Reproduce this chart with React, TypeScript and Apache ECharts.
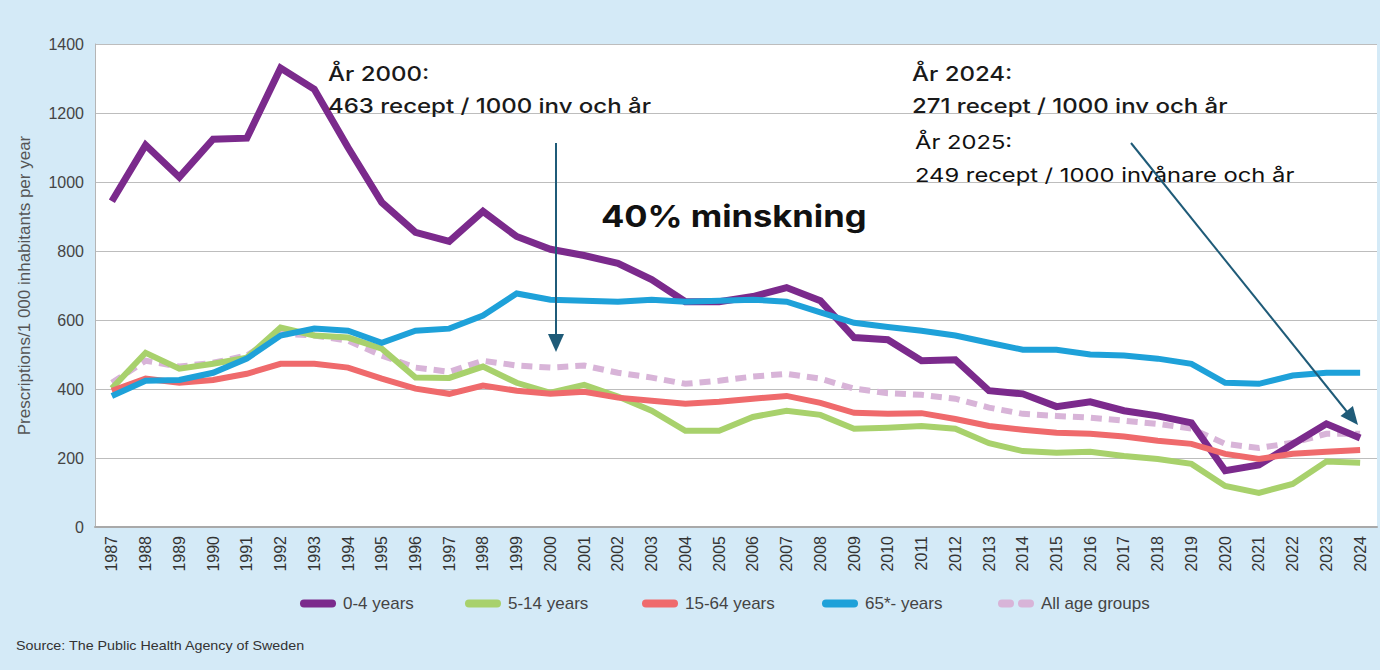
import React, { useEffect, useRef } from "react";
import * as echarts from "echarts";

const years = [
  "1987","1988","1989","1990","1991","1992","1993","1994","1995","1996",
  "1997","1998","1999","2000","2001","2002","2003","2004","2005","2006",
  "2007","2008","2009","2010","2011","2012","2013","2014","2015","2016",
  "2017","2018","2019","2020","2021","2022","2023","2024",
];

const age0to4 = [
  944, 1107, 1014, 1124, 1127, 1330, 1269, 1100, 941, 854,
  828, 915, 842, 805, 787, 764, 717, 653, 653, 668,
  694, 656, 549, 543, 482, 485, 395, 386, 349, 363,
  337, 322, 302, 163, 180, 240, 299, 258,
];

const age5to14 = [
  402, 505, 459, 473, 491, 578, 555, 549, 517, 433,
  432, 465, 418, 389, 412, 378, 337, 279, 279, 319,
  337, 325, 285, 288, 293, 285, 243, 220, 215, 218,
  206, 197, 183, 119, 99, 125, 190, 186,
];

const age15to64 = [
  395, 430, 418, 426, 444, 473, 473, 462, 430, 401,
  386, 410, 395, 386, 392, 375, 366, 357, 363, 372,
  380, 360, 331, 328, 330, 313, 293, 282, 273, 270,
  262, 250, 241, 212, 197, 212, 218, 223,
];

const age65plus = [
  380, 424, 426, 447, 488, 555, 575, 569, 534, 569,
  575, 613, 677, 659, 656, 653, 659, 653, 656, 659,
  653, 622, 592, 580, 569, 555, 534, 514, 514, 500,
  497, 488, 473, 418, 415, 439, 447, 447,
];

const allAges = [
  418, 482, 465, 476, 497, 560, 555, 540, 497, 462,
  450, 482, 468, 462, 468, 447, 433, 415, 424, 436,
  444, 430, 401, 388, 383, 372, 346, 328, 322, 317,
  308, 299, 285, 241, 229, 244, 270, 270,
];

const yTicks = { min: 0, max: 1400, interval: 200 };

const seriesNames = ["0-4 years", "5-14 years", "15-64 years", "65*- years", "All age groups"];
const seriesColors = ["#7b2a8c", "#a8d16c", "#ef6a6c", "#1ea1d9", "#d8b4d8"];

const FONT = "'Liberation Sans', Arial, sans-serif";
const ANN_FONT = "Inter, 'Noto Sans', sans-serif";
const ARROW = "#1f5b78";

const annText = (text: string, x: number, y: number, fontSize: number, weight: any, sx: number, fill = "#1a1a1a") => ({
  type: "text",
  x,
  y,
  scaleX: sx,
  z: 10,
  style: { text, fontSize, fontFamily: ANN_FONT, fontWeight: weight, fill, align: "left", verticalAlign: "middle" },
});

export default function App() {
  const ref = useRef<HTMLDivElement>(null);

  useEffect(() => {
    document.body.style.margin = "0";
    if (!ref.current) return;
    const chart = echarts.init(ref.current, null, { renderer: "svg" });

    const capsule = "path://M4,0 h28 a4,4 0 0 1 0,8 h-28 a4,4 0 0 1 0,-8 z";
    const dashes = "path://M4,0 h8 a4,4 0 0 1 0,8 h-8 a4,4 0 0 1 0,-8 z M24,0 h8 a4,4 0 0 1 0,8 h-8 a4,4 0 0 1 0,-8 z";
    const legendLefts = [300, 465, 642, 822, 998];
    const legends = seriesNames.map((name, i) => ({
      data: [name],
      left: legendLefts[i],
      top: 595,
      padding: 0,
      itemWidth: 36,
      itemHeight: 8,
      symbolKeepAspect: false,
      icon: i === 4 ? dashes : capsule,
      textStyle: { fontSize: 17, color: "#444", fontFamily: FONT, padding: [0, 0, 0, 2] },
      selectedMode: false,
    }));

    const lineSeries = (name: string, data: number[], color: string, width: number, z: number, dashed = false) => ({
      name,
      type: "line",
      data,
      symbol: "none",
      z,
      itemStyle: { color },
      lineStyle: { color, width, type: dashed ? [11, 7] : "solid", cap: "butt", join: "miter" },
    });

    chart.setOption({
      animation: false,
      backgroundColor: "#d4eaf7",
      grid: {
        left: 95,
        right: 3,
        top: 44,
        bottom: 143,
        show: true,
        backgroundColor: "#ffffff",
        borderWidth: 0,
      },
      legend: legends,
      xAxis: {
        type: "category",
        data: years,
        boundaryGap: true,
        axisTick: { show: false },
        axisLine: { show: true, lineStyle: { color: "#a9a9a9", width: 2 } },
        axisLabel: { rotate: 90, fontSize: 16, color: "#333", fontFamily: FONT, margin: 9, interval: 0 },
      },
      yAxis: {
        type: "value",
        min: yTicks.min,
        max: yTicks.max,
        interval: yTicks.interval,
        name: "Prescriptions/1 000 inhabitants per year",
        nameLocation: "middle",
        nameGap: 62,
        nameTextStyle: { fontSize: 17, color: "#555", fontFamily: FONT },
        axisLine: { show: true, lineStyle: { color: "#b5b5b5", width: 1 } },
        axisTick: { show: false },
        axisLabel: { fontSize: 16, color: "#444", fontFamily: FONT, margin: 11, formatter: (v: number) => String(v) },
        splitLine: { lineStyle: { color: "#bdbdbd", width: 1 } },
      },
      series: [
        lineSeries(seriesNames[4], allAges, seriesColors[4], 6, 1, true),
        lineSeries(seriesNames[0], age0to4, seriesColors[0], 7, 2),
        lineSeries(seriesNames[1], age5to14, seriesColors[1], 6, 3),
        lineSeries(seriesNames[2], age15to64, seriesColors[2], 6, 4),
        lineSeries(seriesNames[3], age65plus, seriesColors[3], 6, 5),
      ],
      graphic: [
        annText("År 2000:", 328, 74, 20, 500, 1.2),
        annText("463 recept / 1000 inv och år", 328, 106, 20, 500, 1.2),
        annText("40% minskning", 601, 216, 30, "bold", 1.15, "#111"),
        annText("År 2024:", 912, 74, 20, 500, 1.2),
        annText("271 recept / 1000 inv och år", 912, 106, 20, 500, 1.2),
        annText("År 2025:", 915, 142, 19, "normal", 1.25, "#111"),
        annText("249 recept / 1000 invånare och år", 915, 175, 19, "normal", 1.25, "#111"),
        { type: "line", z: 10, shape: { x1: 556, y1: 143, x2: 556, y2: 338 }, style: { stroke: ARROW, lineWidth: 2 } },
        { type: "polygon", z: 10, shape: { points: [[548, 334], [564, 334], [556, 352]] }, style: { fill: ARROW } },
        { type: "line", z: 10, shape: { x1: 1131, y1: 143, x2: 1348, y2: 413 }, style: { stroke: ARROW, lineWidth: 2 } },
        { type: "polygon", z: 10, shape: { points: [[1340.5, 416], [1352.9, 406], [1358, 425]] }, style: { fill: ARROW } },
        {
          type: "text", x: 16, y: 646, scaleX: 1.1, z: 10,
          style: { text: "Source: The Public Health Agency of Sweden", fontSize: 13, fontFamily: FONT, fill: "#333", verticalAlign: "middle" },
        },
      ],
    });

    return () => chart.dispose();
  }, []);

  return <div ref={ref} style={{ width: 1380, height: 670 }} />;
}
